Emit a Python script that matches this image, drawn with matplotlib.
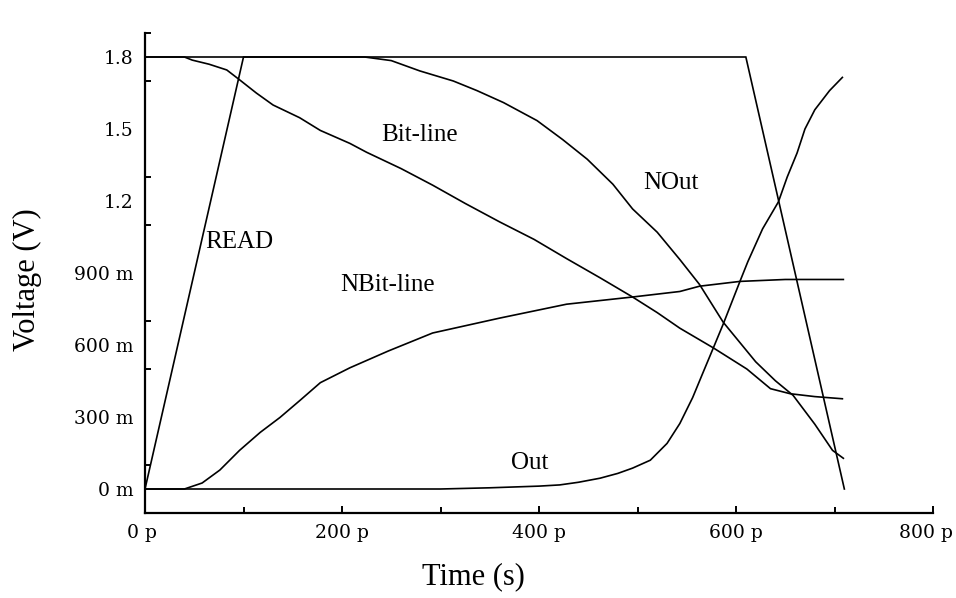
import matplotlib
matplotlib.use("Agg")
import matplotlib.pyplot as plt
import matplotlib.transforms as mtrans
import numpy as np

# ---- data (time in ps, voltage in V) ----
t_read = [0, 100, 610, 710]
v_read = [0.0, 1.8, 1.8, 0.0]

t_bit = [0, 40, 48, 65, 83, 96, 113, 130, 157, 178, 208, 225, 260, 292, 325, 360,
         395, 428, 462, 495, 520, 543, 577, 611, 635, 655, 680, 708]
v_bit = [1.8, 1.8, 1.787, 1.77, 1.746, 1.705, 1.65, 1.60, 1.547, 1.494, 1.44, 1.403,
         1.335, 1.266, 1.19, 1.113, 1.04, 0.96, 0.88, 0.80, 0.735, 0.67, 0.588, 0.50,
         0.418, 0.397, 0.385, 0.376]

t_nbit = [0, 40, 58, 76, 96, 117, 137, 157, 178, 208, 247, 292, 360, 428, 495, 543,
          563, 604, 650, 709]
v_nbit = [0.0, 0.0, 0.025, 0.079, 0.161, 0.236, 0.298, 0.368, 0.443, 0.505, 0.575,
          0.65, 0.712, 0.77, 0.80, 0.823, 0.845, 0.865, 0.873, 0.873]

t_nout = [0, 223, 250, 279, 313, 337, 364, 398, 424, 449, 475, 495, 520, 543, 563,
          587, 601, 620, 640, 658, 680, 698, 709]
v_nout = [1.8, 1.8, 1.785, 1.742, 1.70, 1.66, 1.61, 1.535, 1.456, 1.374, 1.27, 1.167,
          1.07, 0.956, 0.852, 0.695, 0.625, 0.53, 0.451, 0.39, 0.27, 0.161, 0.128]

t_out = [0, 300, 350, 400, 421, 440, 462, 480, 495, 513, 530, 543, 556, 566, 577, 587,
         604, 612, 627, 643, 652, 662, 670, 680, 695, 708]
v_out = [0.0, 0.0, 0.005, 0.012, 0.017, 0.028, 0.045, 0.065, 0.087, 0.12, 0.19, 0.273,
         0.381, 0.48, 0.588, 0.687, 0.865, 0.947, 1.084, 1.196, 1.30, 1.40, 1.50, 1.58,
         1.66, 1.715]

x_ticks = [0, 200, 400, 600, 800]
x_ticklabels = ["0 p", "200 p", "400 p", "600 p", "800 p"]
y_ticks = [0.0, 0.3, 0.6, 0.9, 1.2, 1.5, 1.8]
y_ticklabels = ["0 m", "300 m", "600 m", "900 m", "1.2", "1.5", "1.8"]

labels = ["READ", "Bit-line", "NOut", "NBit-line", "Out"]
label_t = [96, 279, 534, 246, 391]
label_v = [1.03, 1.473, 1.274, 0.852, 0.108]

# ---- figure ----
fig = plt.figure(figsize=(9.56, 5.98), dpi=100)
ax = fig.add_axes([145 / 956, 85 / 598, 788 / 956, 480 / 598])

lw = 1.2
for t, v in [(t_read, v_read), (t_bit, v_bit), (t_nbit, v_nbit),
             (t_nout, v_nout), (t_out, v_out)]:
    ax.plot(t, v, color="black", lw=lw, solid_joinstyle="miter")

serif = ["Liberation Serif", "DejaVu Serif"]
for s, t, v in zip(labels, label_t, label_v):
    ax.text(t, v, s, ha="center", va="center", fontsize=18, family=serif)

ax.set_xlim(0, 800)
ax.set_ylim(-0.1, 1.9)

for side in ["top", "right"]:
    ax.spines[side].set_visible(False)
for side in ["left", "bottom"]:
    ax.spines[side].set_linewidth(1.6)

tickfont = ["DejaVu Serif"]
ax.set_xticks(x_ticks)
ax.set_xticklabels(x_ticklabels, family=tickfont, fontsize=13.5)
ax.set_xticks([100, 300, 500, 700], minor=True)
ax.tick_params(axis="x", which="major", direction="in", length=5, width=1.4, pad=8)
ax.tick_params(axis="x", which="minor", direction="in", length=4, width=1.4)

ax.set_yticks(y_ticks)
ax.set_yticklabels(y_ticklabels, family=tickfont, fontsize=13.5)
ax.set_yticks(np.arange(-0.1, 1.95, 0.2), minor=True)
ax.tick_params(axis="y", which="major", direction="in", length=0, pad=8)
ax.tick_params(axis="y", which="minor", direction="in", length=4, width=1.4)

# nudge the first and last x tick labels as in the reference
xl = ax.get_xticklabels()
xl[0].set_transform(xl[0].get_transform() +
                    mtrans.ScaledTranslation(-3 / 100, 0, fig.dpi_scale_trans))
xl[-1].set_transform(xl[-1].get_transform() +
                     mtrans.ScaledTranslation(-7 / 100, 0, fig.dpi_scale_trans))

fig.text(473 / 956, 1 - 577 / 598, "Time (s)", ha="center", va="center",
         fontsize=22, family=serif)
fig.text(27 / 956, 1 - 280 / 598, "Voltage (V)", ha="center", va="center",
         fontsize=22, family=serif, rotation=90)

fig.savefig("out.png", dpi=100)
